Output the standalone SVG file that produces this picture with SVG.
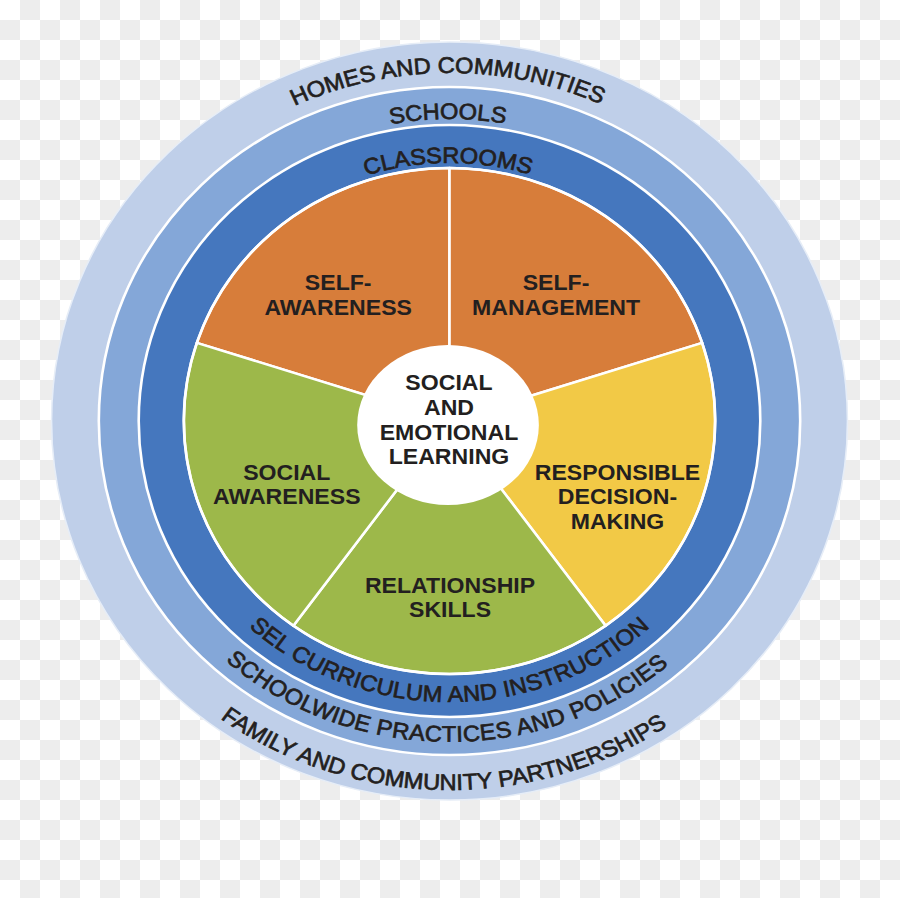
<svg xmlns="http://www.w3.org/2000/svg" width="900" height="898" viewBox="0 0 900 898">
  <style>
    .lbl { font-family: "Liberation Sans", Arial, sans-serif; font-weight: bold; font-size: 22px; fill: #231f20; text-anchor: middle; }
    .arc { font-family: "Liberation Sans", Arial, sans-serif; font-weight: normal; font-size: 22.5px; fill: #231f20; text-anchor: middle; stroke: #231f20; stroke-width: 0.7; }
    .sep { stroke: #ffffff; stroke-width: 2.5; stroke-linejoin: round; }
  </style>
  <defs>
    <pattern id="checker" width="40" height="40" patternUnits="userSpaceOnUse">
      <rect width="40" height="40" fill="#ffffff"/>
      <rect x="20" y="0" width="20" height="20" fill="#ededed"/>
      <rect x="0" y="20" width="20" height="20" fill="#ededed"/>
    </pattern>
    <path id="pHomes" d="M -348,0 A 348,348 0 0 1 348,0"/>
    <path id="pSchools" d="M -302,0 A 302,302 0 0 1 302,0"/>
    <path id="pClass" d="M -258,0 A 258,258 0 0 1 258,0"/>
    <path id="pSel" d="M -281,0 A 281,281 0 0 0 281,0"/>
    <path id="pWide" d="M -321,0 A 321,321 0 0 0 321,0"/>
    <path id="pFamily" d="M -369,0 A 369,369 0 0 0 369,0"/>
  </defs>
  <rect width="900" height="898" fill="url(#checker)"/>
  <g transform="translate(449.5,421) scale(1.05,1)">
    <g id="ring-homes">
      <circle r="379" fill="#bfcfe9" stroke="#e6edf7" stroke-width="1.5"/>
      <text class="arc" transform="rotate(-0.3)"><textPath href="#pHomes" startOffset="50%">HOMES AND COMMUNITIES</textPath></text>
      <text class="arc" transform="rotate(1)"><textPath href="#pFamily" startOffset="50%">FAMILY AND COMMUNITY PARTNERSHIPS</textPath></text>
    </g>
    <g id="ring-schools">
      <circle r="334" fill="#84a7d8" class="sep"/>
      <text class="arc" transform="rotate(-0.3)"><textPath href="#pSchools" startOffset="50%">SCHOOLS</textPath></text>
      <text class="arc" letter-spacing="0.35" transform="rotate(0.5)"><textPath href="#pWide" startOffset="50%">SCHOOLWIDE PRACTICES AND POLICIES</textPath></text>
    </g>
    <g id="ring-classrooms">
      <circle r="296" fill="#4577be" class="sep"/>
      <text class="arc" transform="rotate(-0.3)"><textPath href="#pClass" startOffset="50%">CLASSROOMS</textPath></text>
      <text class="arc" letter-spacing="0.3"><textPath href="#pSel" startOffset="50%">SEL CURRICULUM AND INSTRUCTION</textPath></text>
    </g>
    <g id="self-awareness">
      <path d="M0,0 L-240.62,-78.18 A253,253 0 0 1 0,-253 Z" fill="#d77d3a" class="sep"/>
      <text class="lbl" x="-106" y="-131">SELF-</text>
      <text class="lbl" x="-106" y="-106">AWARENESS</text>
    </g>
    <g id="self-management">
      <path d="M0,0 L0,-253 A253,253 0 0 1 240.62,-78.18 Z" fill="#d77d3a" class="sep"/>
      <text class="lbl" x="101.5" y="-131">SELF-</text>
      <text class="lbl" x="101.5" y="-106">MANAGEMENT</text>
    </g>
    <g id="responsible-decision-making">
      <path d="M0,0 L240.62,-78.18 A253,253 0 0 1 148.71,204.68 Z" fill="#f2c946" class="sep"/>
      <text class="lbl" x="160" y="59">RESPONSIBLE</text>
      <text class="lbl" x="160" y="83">DECISION-</text>
      <text class="lbl" x="160" y="108">MAKING</text>
    </g>
    <g id="relationship-skills">
      <path d="M0,0 L148.71,204.68 A253,253 0 0 1 -148.71,204.68 Z" fill="#9db84a" class="sep"/>
      <text class="lbl" x="0.5" y="172">RELATIONSHIP</text>
      <text class="lbl" x="0.5" y="196">SKILLS</text>
    </g>
    <g id="social-awareness">
      <path d="M0,0 L-148.71,204.68 A253,253 0 0 1 -240.62,-78.18 Z" fill="#9db84a" class="sep"/>
      <text class="lbl" x="-155" y="59">SOCIAL</text>
      <text class="lbl" x="-155" y="83">AWARENESS</text>
    </g>
    <circle r="253" fill="none" class="sep"/>
    <g id="sel-center">
      <ellipse cx="-1.4" cy="4" rx="86.5" ry="80" fill="#ffffff"/>
      <text class="lbl" x="-0.5" y="-31">SOCIAL</text>
      <text class="lbl" x="-0.5" y="-6">AND</text>
      <text class="lbl" x="-0.5" y="19">EMOTIONAL</text>
      <text class="lbl" x="-0.5" y="43">LEARNING</text>
    </g>
  </g>
</svg>
